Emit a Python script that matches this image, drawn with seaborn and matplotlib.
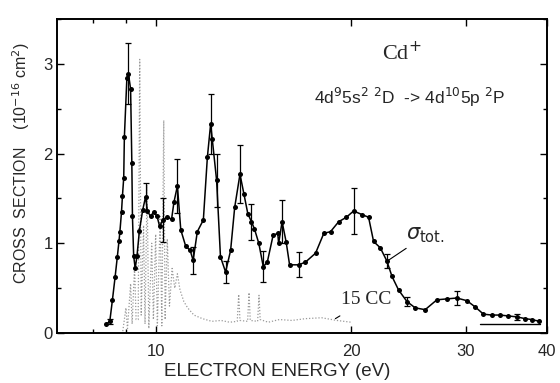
import numpy as np
import pandas as pd
import matplotlib
matplotlib.use("Agg")
import matplotlib.pyplot as plt
import seaborn as sns
from matplotlib.ticker import FixedLocator, NullFormatter, FixedFormatter, MultipleLocator

# ---------------- data ----------------
energy = [8.40, 8.50, 8.58, 8.66, 8.73, 8.78, 8.81, 8.86, 8.89, 8.93, 8.95,
          9.03, 9.08, 9.15, 9.19, 9.21, 9.25, 9.30, 9.36, 9.44, 9.55, 9.65,
          9.71, 9.82, 9.93, 10.05, 10.14, 10.26, 10.42, 10.58, 10.67, 10.80,
          10.93, 11.12, 11.30, 11.42, 11.59, 11.84, 12.01, 12.15, 12.22, 12.41,
          12.58, 12.81, 13.04, 13.23, 13.48, 13.67, 13.86, 14.04, 14.19, 14.41,
          14.64, 14.85, 15.16, 15.41, 15.46, 15.65, 15.88, 16.07, 16.60, 17.00,
          17.62, 18.14, 18.58, 19.12, 19.65, 20.16, 20.77, 21.26, 21.64, 22.16,
          22.69, 23.10, 23.64, 24.36, 25.08, 25.98, 27.08, 28.05, 29.06, 30.12,
          31.02, 31.94, 32.90, 33.88, 34.88, 35.93, 37.01, 37.89, 38.94]
sigma = [0.10, 0.13, 0.37, 0.62, 0.85, 1.02, 1.13, 1.35, 1.53, 1.73, 2.18,
         2.84, 2.89, 2.72, 1.90, 1.30, 0.86, 0.72, 0.86, 1.14, 1.37, 1.52,
         1.36, 1.30, 1.35, 1.30, 1.19, 1.26, 1.29, 1.27, 1.46, 1.64,
         1.15, 0.97, 0.92, 0.81, 1.13, 1.26, 1.96, 2.33, 2.16, 1.70,
         0.85, 0.68, 0.92, 1.40, 1.77, 1.55, 1.33, 1.24, 1.16, 1.00,
         0.74, 0.79, 1.09, 1.11, 1.00, 1.24, 1.01, 0.76, 0.76, 0.79,
         0.89, 1.11, 1.13, 1.24, 1.29, 1.36, 1.32, 1.29, 1.02, 0.95,
         0.80, 0.63, 0.48, 0.35, 0.28, 0.26, 0.37, 0.38, 0.39, 0.36,
         0.29, 0.21, 0.20, 0.20, 0.19, 0.18, 0.16, 0.15, 0.13]
sigma_err = [0, 0.03, 0, 0, 0, 0, 0, 0, 0, 0, 0,
             0, 0.34, 0, 0, 0, 0, 0, 0, 0, 0, 0.15,
             0, 0, 0, 0, 0, 0.25, 0, 0, 0, 0.30,
             0, 0, 0, 0.15, 0, 0, 0, 0.33, 0, 0.30,
             0, 0.12, 0, 0, 0.32, 0, 0, 0.20, 0, 0,
             0.17, 0, 0, 0, 0, 0.24, 0, 0, 0.14, 0,
             0, 0, 0, 0, 0, 0.26, 0, 0, 0, 0,
             0.08, 0, 0, 0.05, 0, 0, 0, 0, 0.08, 0,
             0, 0, 0, 0, 0, 0.03, 0, 0, 0]

# 15-state close-coupling curve (dotted)
cc_energy = [8.90, 9.00, 9.05, 9.15, 9.20, 9.28, 9.33, 9.40, 9.45, 9.50,
             9.58, 9.63, 9.70, 9.76, 9.86, 9.92, 10.00, 10.06, 10.16, 10.22,
             10.29, 10.34, 10.42, 10.50, 10.60, 10.70, 10.80, 10.90, 11.05,
             11.20, 11.45, 11.80, 12.20, 12.60, 13.00, 13.35, 13.42, 13.48,
             13.85, 13.92, 13.98, 14.35, 14.42, 14.48, 14.90, 15.50, 16.20,
             17.00, 18.00, 19.00, 20.00]
cc_sigma = [0.02, 0.28, 0.05, 0.55, 0.10, 0.75, 0.15, 0.15, 3.05, 0.20,
            1.20, 0.10, 1.65, 0.05, 1.00, 0.15, 1.10, 0.08, 1.30, 0.08,
            2.37, 0.15, 1.05, 0.30, 0.72, 0.50, 0.66, 0.48, 0.35,
            0.28, 0.20, 0.16, 0.13, 0.14, 0.12, 0.13, 0.43, 0.14,
            0.13, 0.45, 0.14, 0.13, 0.42, 0.15, 0.12, 0.15, 0.14,
            0.16, 0.17, 0.14, 0.12]

# short solid reference line at high energy
ref_energy = [31.5, 39.0]
ref_sigma = [0.105, 0.105]

x_ticks = [10, 20, 30, 40]
x_minor = [8, 9]
y_ticks = [0, 1, 2, 3]

# ---------------- figure ----------------
sns.set_style("ticks")
plt.rcParams['font.family'] = ['Liberation Sans', 'DejaVu Sans']
plt.rcParams['mathtext.fontset'] = 'dejavusans'

fig = plt.figure(figsize=(5.6, 3.83), dpi=100)
fig.patch.set_facecolor('white')
ax = fig.add_axes([57 / 560, 1 - 333 / 383, 490 / 560, 314 / 383])
ax.set_facecolor('white')

main = pd.DataFrame({'energy': energy, 'sigma': sigma, 'err': sigma_err})
cc = pd.DataFrame({'energy': cc_energy, 'sigma': cc_sigma})

sns.lineplot(data=cc, x='energy', y='sigma', estimator=None, sort=False,
             color='#9a9a9a', lw=0.9, linestyle=(0, (1, 1.5)), ax=ax)
sns.lineplot(data=main, x='energy', y='sigma', estimator=None, sort=True,
             color='black', lw=1.1, marker='o', markersize=3.6,
             markeredgewidth=0, ax=ax)
eb = main[main['err'] > 0]
ax.errorbar(eb['energy'], eb['sigma'], yerr=eb['err'], fmt='none',
            ecolor='black', elinewidth=0.9, capsize=2.2, capthick=0.9)
ax.plot(ref_energy, ref_sigma, color='black', lw=1.0)

ax.set_xscale('log')
ax.set_xlim(7.05, 40)
ax.set_ylim(0, 3.5)
ax.xaxis.set_major_locator(FixedLocator(x_ticks))
ax.xaxis.set_major_formatter(FixedFormatter([str(t) for t in x_ticks]))
ax.xaxis.set_minor_locator(FixedLocator(x_minor))
ax.xaxis.set_minor_formatter(NullFormatter())
ax.yaxis.set_major_locator(FixedLocator(y_ticks))
ax.yaxis.set_minor_locator(MultipleLocator(0.5))
ax.set_xlabel('')
ax.set_ylabel('')

ax.tick_params(which='both', direction='in', top=True, right=True,
               width=1.0, color='black')
ax.tick_params(which='major', length=5)
ax.tick_params(which='minor', length=3)
ax.tick_params(axis='x', which='major', labelsize=12, pad=8)
ax.tick_params(axis='y', which='major', labelsize=12, pad=3)
for s in ax.spines.values():
    s.set_linewidth(1.4)
    s.set_color('black')
    s.set_visible(True)

# annotations
ax.text(23.9, 3.12, 'Cd$^{+}$', family=['Liberation Serif', 'DejaVu Serif'],
        fontsize=16, ha='center', va='center')
ax.text(24.6, 2.62, r'4d$^9$5s$^2$ $^2$D  -> 4d$^{10}$5p $^2$P',
        fontsize=12.5, ha='center', va='center')
ax.annotate(r'$\sigma_{\rm tot.}$', xy=(22.8, 0.81), xytext=(24.3, 0.98),
            fontsize=15, ha='left', va='bottom',
            arrowprops=dict(arrowstyle='-', color='black', lw=0.8,
                            shrinkA=0, shrinkB=0))
ax.annotate('15 CC', xy=(18.9, 0.16), xytext=(21.1, 0.37),
            family=['Liberation Serif', 'DejaVu Serif'], fontsize=14,
            ha='center', va='center',
            arrowprops=dict(arrowstyle='-', color='black', lw=0.8,
                            shrinkA=6, shrinkB=0))

fig.text(277 / 560, 1 - 372 / 383, 'ELECTRON ENERGY (eV)', fontsize=13.5,
         ha='center', va='center')
fig.text(21 / 560, 1 - 163 / 383, 'CROSS  SECTION    (10$^{-16}$ cm$^{2}$)',
         fontsize=11.5, rotation=90, ha='center', va='center')

fig.savefig('out.png', dpi=100, facecolor='white')
